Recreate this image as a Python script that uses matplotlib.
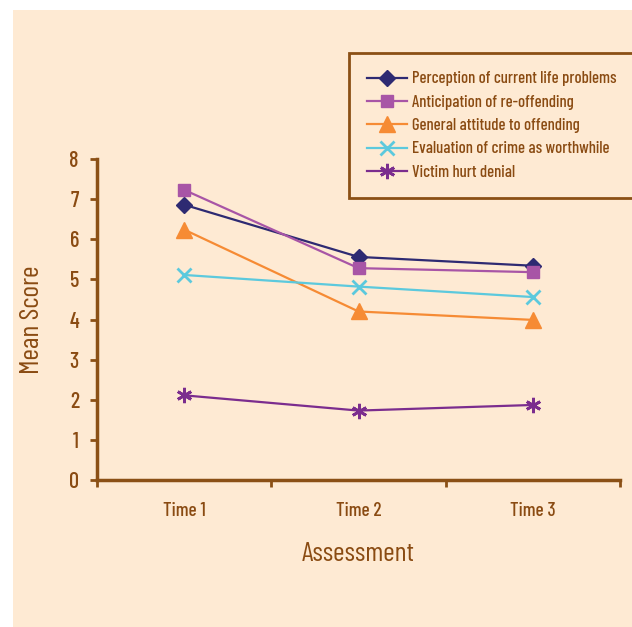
# Mean score by assessment time, one line per scale.

import matplotlib
matplotlib.use("Agg")
import matplotlib.pyplot as plt
from matplotlib.patches import Rectangle

times = ["Time 1", "Time 2", "Time 3"]
time_pos = [0.5, 1.5, 2.5]

perception = [6.86, 5.56, 5.34]
anticipation = [7.23, 5.28, 5.18]
attitude = [6.24, 4.20, 3.99]
evaluation = [5.11, 4.82, 4.56]
victim = [2.11, 1.73, 1.87]

series_names = [
    "Perception of current life problems",
    "Anticipation of re-offending",
    "General attitude to offending",
    "Evaluation of crime as worthwhile",
    "Victim hurt denial",
]

BROWN = "#8B5015"
TEXT = "#8A4B12"
BG = "#FEEAD3"
FONT = ["Barlow Condensed", "DejaVu Sans"]

plt.rcParams["font.family"] = FONT
plt.rcParams["font.weight"] = "medium"

fig = plt.figure(figsize=(6.32, 6.27), dpi=100)
fig.patch.set_facecolor("white")
# beige panel behind the chart
fig.add_artist(Rectangle((13 / 632, 0), 1, 1 - 10 / 627, transform=fig.transFigure,
                         facecolor=BG, edgecolor="none", zorder=-10))

ax = fig.add_axes([97 / 632, 147 / 627, 523 / 632, 321 / 627])
ax.set_facecolor(BG)
ax.patch.set_alpha(0)

styles = [
    dict(color="#2E2A72", marker="D", markersize=8),
    dict(color="#A855A6", marker="s", markersize=9),
    dict(color="#F68B34", marker="^", markersize=11),
    dict(color="#5CC9DD", marker="x", markersize=10, markeredgewidth=2),
    dict(color="#7B2D8E", marker=(6, 2, 0), markersize=11, markeredgewidth=2),
]
all_series = [perception, anticipation, attitude, evaluation, victim]
for name, values, st in zip(series_names, all_series, styles):
    ax.plot(time_pos, values, linewidth=1.6, label=name, **st)

ax.set_xlim(0, 3)
ax.set_ylim(0, 8)
ax.set_xticks([0, 1, 2, 3])
ax.set_xticklabels([])
ax.set_xticks(time_pos, minor=True)
ax.set_xticklabels(times, minor=True)
ax.tick_params(axis="x", which="minor", length=0, pad=16, labelsize=14, labelcolor=TEXT)
ax.tick_params(axis="x", which="major", length=5, width=2, color=BROWN, direction="out")
ax.set_yticks(range(9))
ax.tick_params(axis="y", length=5, width=2, color=BROWN, direction="out",
               labelsize=16, labelcolor=TEXT, pad=8)

for side in ["top", "right"]:
    ax.spines[side].set_visible(False)
for side in ["left", "bottom"]:
    ax.spines[side].set_color(BROWN)
    ax.spines[side].set_linewidth(2.5)

ax.set_xlabel("Assessment", fontsize=20, color=TEXT, labelpad=16)
ax.set_ylabel("Mean Score", fontsize=20, color=TEXT, labelpad=18)

leg = ax.legend(loc="upper left", bbox_to_anchor=(349 / 632, 1 - 53 / 627),
                bbox_transform=fig.transFigure, fontsize=12, frameon=True,
                fancybox=False, handlelength=2.4, handletextpad=0.3,
                labelspacing=0.5, borderpad=1.1, borderaxespad=0)
leg.get_frame().set_edgecolor(BROWN)
leg.get_frame().set_linewidth(2)
leg.get_frame().set_facecolor(BG)
leg.get_frame().set_alpha(1)
for t in leg.get_texts():
    t.set_color(TEXT)

fig.savefig("out.png", dpi=100)
